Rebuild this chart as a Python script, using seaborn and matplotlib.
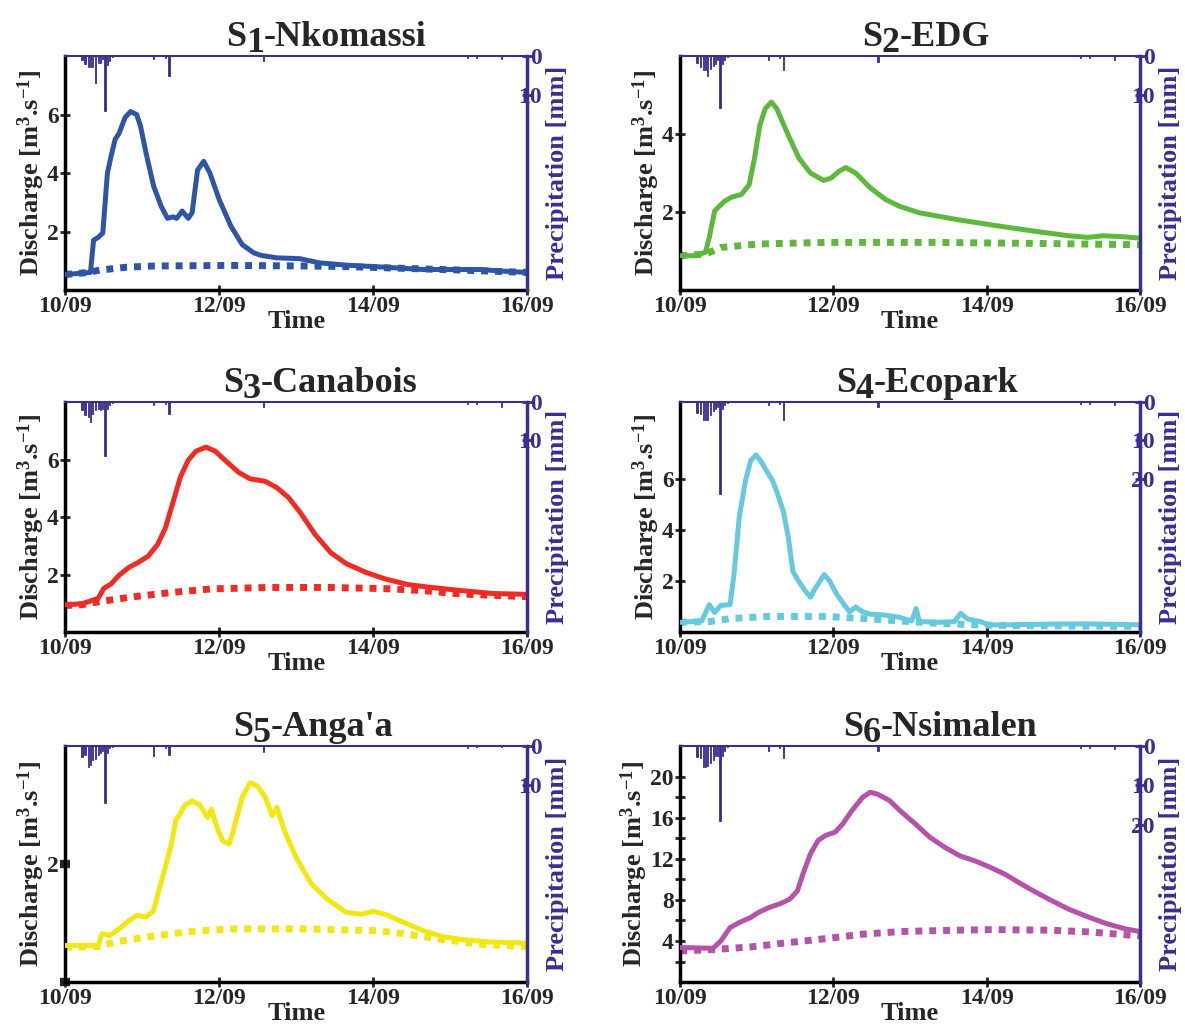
import matplotlib
matplotlib.use('Agg')
import matplotlib.pyplot as plt
from matplotlib.transforms import offset_copy
import seaborn as sns
import numpy as np
import pandas as pd

# ─── Data (days since 10/09 00:00) ──────────────────────────────────────────
s1_t_obs = [0, 0.33, 0.37, 0.43, 0.49, 0.55, 0.6, 0.65, 0.7, 0.78, 0.85, 0.93, 0.98, 1.05, 1.15,
            1.25, 1.33, 1.4, 1.45, 1.52, 1.6, 1.65, 1.72, 1.8, 1.88, 2.0, 2.15, 2.3, 2.45, 2.55,
            2.75, 3.05, 3.3, 3.65, 4.15, 4.65, 5.4, 5.65, 6.0]
s1_q_obs = [0.53, 0.6, 1.7, 1.8, 1.95, 4.0, 4.6, 5.15, 5.35, 5.9, 6.1, 6.0, 5.6, 4.7, 3.55,
            2.85, 2.45, 2.5, 2.45, 2.7, 2.45, 2.65, 4.1, 4.4, 4.0, 3.1, 2.2, 1.55, 1.27, 1.18,
            1.1, 1.07, 0.93, 0.85, 0.78, 0.7, 0.7, 0.65, 0.6]
s1_t_sim = [0, 0.3, 0.45, 0.8, 1.15, 2.15, 3.15, 3.65, 4.15, 5.15, 6.0]
s1_q_sim = [0.53, 0.6, 0.68, 0.78, 0.82, 0.84, 0.82, 0.8, 0.76, 0.68, 0.6]

s2_t_obs = [0, 0.2, 0.33, 0.38, 0.45, 0.58, 0.67, 0.8, 0.9, 0.97, 1.04, 1.11, 1.19, 1.26, 1.41,
            1.55, 1.7, 1.87, 1.97, 2.07, 2.16, 2.29, 2.48, 2.68, 2.87, 3.12, 3.6, 4.09, 4.58,
            5.07, 5.32, 5.51, 5.75, 6.0]
s2_q_obs = [0.88, 0.88, 0.97, 1.35, 2.03, 2.28, 2.38, 2.45, 2.7, 3.38, 4.23, 4.65, 4.82, 4.65, 3.97,
            3.38, 3.0, 2.81, 2.87, 3.04, 3.14, 3.0, 2.62, 2.32, 2.14, 1.98, 1.81, 1.66, 1.52,
            1.39, 1.35, 1.39, 1.37, 1.33]
s2_t_sim = [0, 0.33, 0.53, 1.02, 1.9, 3.36, 4.83, 6.0]
s2_q_sim = [0.88, 0.92, 1.09, 1.18, 1.22, 1.22, 1.19, 1.16]

s3_t_obs = [0, 0.22, 0.43, 0.5, 0.6, 0.7, 0.83, 0.95, 1.08, 1.2, 1.3, 1.4, 1.5, 1.6, 1.7, 1.83,
            1.95, 2.1, 2.25, 2.4, 2.6, 2.75, 2.9, 3.05, 3.25, 3.45, 3.65, 3.9, 4.15, 4.45, 4.75,
            5.15, 5.55, 6.0]
s3_q_obs = [0.95, 0.98, 1.17, 1.51, 1.68, 1.97, 2.25, 2.42, 2.64, 3.04, 3.6, 4.5, 5.41, 5.98, 6.29, 6.43,
            6.29, 5.92, 5.56, 5.33, 5.24, 5.02, 4.68, 4.17, 3.38, 2.76, 2.38, 2.08, 1.85, 1.65, 1.55,
            1.44, 1.34, 1.31]
s3_t_sim = [0, 0.22, 0.45, 0.9, 1.4, 1.9, 2.65, 3.4, 4.15, 4.65, 5.15, 6.0]
s3_q_sim = [0.92, 0.95, 1.06, 1.23, 1.38, 1.5, 1.55, 1.55, 1.51, 1.44, 1.32, 1.23]

s4_t_obs = [0, 0.28, 0.38, 0.45, 0.53, 0.65, 0.7, 0.77, 0.85, 0.92, 0.99, 1.06, 1.16, 1.21, 1.26,
            1.35, 1.41, 1.47, 1.53, 1.63, 1.7, 1.77, 1.88, 1.95, 2.04, 2.14, 2.21, 2.29, 2.38,
            2.48, 2.68, 2.87, 3.02, 3.08, 3.12, 3.36, 3.58, 3.66, 3.75, 3.92, 4.02, 4.34, 4.83,
            5.32, 6.0]
s4_q_obs = [0.38, 0.43, 1.07, 0.76, 1.04, 1.07, 2.19, 4.48, 5.89, 6.71, 6.93, 6.65, 6.14, 5.89, 5.5,
            4.68, 3.72, 2.38, 2.06, 1.62, 1.36, 1.75, 2.25, 2.0, 1.49, 1.07, 0.79, 0.98, 0.79,
            0.7, 0.66, 0.57, 0.43, 0.92, 0.41, 0.38, 0.41, 0.73, 0.51, 0.41, 0.28, 0.28, 0.31,
            0.32, 0.28]
s4_t_sim = [0, 0.38, 0.67, 1.16, 1.9, 2.38, 2.87, 3.36, 3.85, 4.34, 6.0]
s4_q_sim = [0.38, 0.41, 0.53, 0.61, 0.61, 0.53, 0.43, 0.34, 0.28, 0.25, 0.22]

s5_t_obs = [0, 0.43, 0.48, 0.58, 0.7, 0.83, 0.93, 1.05, 1.15, 1.23, 1.3, 1.38, 1.44, 1.48, 1.55,
            1.65, 1.75, 1.85, 1.9, 1.98, 2.05, 2.13, 2.18, 2.23, 2.3, 2.4, 2.5, 2.6, 2.69, 2.75,
            2.85, 3.0, 3.2, 3.4, 3.65, 3.85, 4.0, 4.15, 4.4, 4.65, 4.9, 5.15, 5.5, 6.0]
s5_q_obs = [0.62, 0.62, 0.82, 0.79, 0.9, 1.04, 1.13, 1.1, 1.21, 1.61, 1.94, 2.34, 2.76, 2.82, 2.99,
            3.07, 3.0, 2.79, 2.93, 2.59, 2.39, 2.34, 2.54, 2.79, 3.13, 3.38, 3.32, 3.13, 2.82, 2.96,
            2.56, 2.11, 1.66, 1.41, 1.18, 1.15, 1.2, 1.15, 1.01, 0.87, 0.77, 0.72, 0.68, 0.66]
s5_t_sim = [0, 0.43, 0.65, 1.15, 1.65, 2.15, 3.15, 4.05, 4.4, 4.9, 5.4, 6.0]
s5_q_sim = [0.59, 0.6, 0.68, 0.78, 0.86, 0.9, 0.9, 0.87, 0.82, 0.72, 0.64, 0.6]

s6_t_obs = [0, 0.43, 0.53, 0.65, 0.77, 0.92, 1.02, 1.16, 1.31, 1.43, 1.53, 1.6, 1.7, 1.8, 1.9,
            2.02, 2.12, 2.24, 2.38, 2.48, 2.58, 2.73, 2.87, 3.07, 3.26, 3.46, 3.65, 3.85, 4.04,
            4.24, 4.44, 4.63, 4.83, 5.07, 5.32, 5.56, 5.8, 6.0]
s6_q_obs = [3.36, 3.29, 4.0, 5.3, 5.8, 6.29, 6.78, 7.26, 7.65, 8.08, 8.89, 10.5, 12.5, 13.8, 14.3,
            14.6, 15.4, 16.7, 18.0, 18.5, 18.3, 17.7, 16.7, 15.4, 14.1, 13.1, 12.3, 11.8, 11.2,
            10.5, 9.6, 8.8, 8.0, 7.1, 6.35, 5.7, 5.2, 4.92]
s6_t_sim = [0, 0.43, 0.92, 1.41, 1.9, 2.38, 2.87, 3.6, 4.09, 4.83, 5.32, 6.0]
s6_q_sim = [3.03, 3.16, 3.42, 3.84, 4.23, 4.66, 4.92, 5.05, 5.11, 5.05, 4.89, 4.5]

# precipitation (mm), same time steps for every station
rain_t = [0.22, 0.26, 0.30, 0.33, 0.36, 0.40, 0.43, 0.46, 0.49, 0.52, 0.55, 0.58, 0.62,
          1.15, 1.30, 1.35, 2.58, 5.22, 5.34, 5.67]
s1_rain = [1.0, 2.0, 2.7, 2.7, 2.7, 7.0, 1.7, 1.7, 0.8, 14.0, 2.3, 1.2, 0.3, 0.8, 0.5, 5.0, 1.2, 0.5, 0.5, 0.8]
s2_rain = [1.7, 2.9, 3.7, 3.7, 5.2, 3.3, 2.5, 2.0, 1.0, 13.3, 2.0, 1.0, 0.3, 1.0, 0.5, 3.5, 1.5, 0.5, 0.5, 1.0]
s3_rain = [2.1, 3.4, 4.0, 5.1, 3.0, 2.1, 1.7, 2.0, 1.7, 14.1, 1.7, 0.8, 0.3, 0.8, 0.5, 3.2, 1.3, 0.5, 0.5, 1.3]
s4_rain = [2.8, 3.0, 4.8, 4.8, 4.8, 3.5, 2.3, 1.8, 1.3, 24.0, 1.8, 0.8, 0.3, 0.8, 0.5, 4.8, 1.3, 0.5, 0.5, 0.8]
s5_rain = [2.7, 2.3, 5.3, 4.9, 3.6, 3.2, 2.3, 1.8, 1.2, 14.5, 1.8, 0.6, 0.3, 2.6, 0.5, 2.3, 1.5, 0.4, 0.3, 0.3]
s6_rain = [2.9, 3.0, 5.2, 5.2, 5.0, 4.3, 3.6, 2.4, 2.4, 19.0, 2.4, 1.2, 0.3, 1.2, 0.5, 3.0, 1.3, 0.5, 0.5, 0.8]

station_ids = ['1', '2', '3', '4', '5', '6']
station_names = ['-Nkomassi', '-EDG', '-Canabois', '-Ecopark', "-Anga'a", '-Nsimalen']
colors = ['#2F56A6', '#5DB83E', '#EE2B24', '#67C9DE', '#F1E812', '#B552A9']
q_tops = [8, 6, 8, 9, 4, 23]
q_ticks = [[2, 4, 6], [2, 4], [2, 4, 6], [2, 4, 6], [0, 2], [4, 8, 12, 16, 20]]
rain_ticks = [[0, 10], [0, 10], [0, 10], [0, 10, 20], [0, 10], [0, 10, 20]]
x_ticks = [0, 2, 4, 6]
x_labels = ['10/09', '12/09', '14/09', '16/09']

obs = [(s1_t_obs, s1_q_obs), (s2_t_obs, s2_q_obs), (s3_t_obs, s3_q_obs),
       (s4_t_obs, s4_q_obs), (s5_t_obs, s5_q_obs), (s6_t_obs, s6_q_obs)]
sim = [(s1_t_sim, s1_q_sim), (s2_t_sim, s2_q_sim), (s3_t_sim, s3_q_sim),
       (s4_t_sim, s4_q_sim), (s5_t_sim, s5_q_sim), (s6_t_sim, s6_q_sim)]
rains = [s1_rain, s2_rain, s3_rain, s4_rain, s5_rain, s6_rain]

# ─── Style ──────────────────────────────────────────────────────────────────
sns.set_style('white')
plt.rcParams['font.family'] = ['Liberation Serif', 'DejaVu Serif']
plt.rcParams['font.weight'] = 'bold'
plt.rcParams['mathtext.fontset'] = 'custom'
plt.rcParams['mathtext.rm'] = 'Liberation Serif:bold'
plt.rcParams['mathtext.it'] = 'Liberation Serif:bold'
plt.rcParams['mathtext.bf'] = 'Liberation Serif:bold'
PURPLE = '#3A2F8F'

fig = plt.figure(figsize=(11.85, 10.24), dpi=100)
renderer = fig.canvas.get_renderer()
lefts = [0.0549, 0.574]
widths = [0.390, 0.388]
rows = [(0.7168, 0.2285), (0.3828, 0.2246), (0.041, 0.2304)]
title_shift = [30, 16, 24, 17, 17, 30]   # px, title centre right of axes centre


def station_title(ax, sid, name, shift):
    """'S' + lowered full-size digit + name, centred above the axes."""
    parts = [('S', 0), (sid, -6), (name, 0)]
    texts, widths_px = [], []
    for s, dy in parts:
        t = ax.text(0.5, 1.0, s, transform=ax.transAxes, fontsize=26, fontweight='bold',
                    ha='left', va='baseline')
        texts.append((t, dy))
        widths_px.append(t.get_window_extent(renderer).width)
    x0 = shift - sum(widths_px) / 2
    for (t, dy), w in zip(texts, widths_px):
        t.set_transform(offset_copy(ax.transAxes, fig=fig, x=x0, y=10 + dy, units='dots'))
        x0 += w


for i in range(6):
    r, c = divmod(i, 2)
    ax = fig.add_axes([lefts[c], rows[r][0], widths[c], rows[r][1]])
    t, q = obs[i]
    ts, qs = sim[i]
    sns.lineplot(x=ts, y=qs, ax=ax, color=colors[i], linewidth=5,
                 linestyle=(0, (1.0, 1.0)), zorder=2)
    sns.lineplot(x=t, y=q, ax=ax, color=colors[i], linewidth=3.6, zorder=3,
                 solid_joinstyle='round', solid_capstyle='round')
    ax.set_xlim(0, 6)
    ax.set_ylim(0, q_tops[i])
    ax.set_xticks(x_ticks)
    ax.set_xticklabels(x_labels)
    ax.set_yticks(q_ticks[i])
    ax.tick_params(axis='both', which='major', direction='inout', length=7, width=2,
                   labelsize=17, pad=1, left=True, bottom=True)
    if i == 4:
        ax.set_yticklabels(['', '2'])
        ax.tick_params(axis='y', width=6, length=7)
    if i == 5:
        ax.set_yticks([2, 6, 10, 14, 18], minor=True)
        ax.tick_params(axis='y', which='minor', direction='inout', length=7, width=2, left=True)
    ax.set_xlabel('Time', fontsize=19, fontweight='bold', labelpad=-5)
    ax.set_ylabel('Discharge [m$^{3}$.s$^{-1}$]', fontsize=19, fontweight='bold', labelpad=0)
    station_title(ax, station_ids[i], station_names[i], title_shift[i])
    for s in ['left', 'bottom']:
        ax.spines[s].set_linewidth(2.5)
        ax.spines[s].set_color('black')
    ax.spines['top'].set_visible(False)
    ax.spines['right'].set_visible(False)

    ax2 = ax.twinx()
    ax2.bar(rain_t, rains[i], width=0.016, color=PURPLE, edgecolor=PURPLE,
            linewidth=0.6, align='center')
    ax2.set_ylim(60, 0)
    ax2.set_yticks(rain_ticks[i])
    ax2.tick_params(axis='y', colors=PURPLE, direction='inout', length=7, width=2,
                    labelsize=17, pad=7, right=True)
    for lab in ax2.get_yticklabels():
        lab.set_horizontalalignment('right')
    ax2.set_ylabel('Precipitation [mm]', color=PURPLE, fontsize=19, fontweight='bold', labelpad=3)
    for s in ['left', 'bottom']:
        ax2.spines[s].set_visible(False)
    ax2.spines['right'].set_color(PURPLE)
    ax2.spines['right'].set_linewidth(2.5)
    ax2.spines['top'].set_color(PURPLE)
    ax2.spines['top'].set_linewidth(1.5)

fig.savefig('out.png', dpi=100)
